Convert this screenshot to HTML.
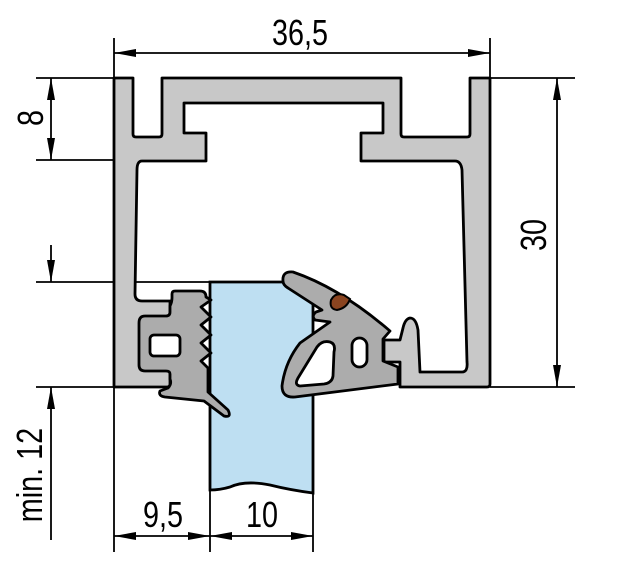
<!DOCTYPE html>
<html><head><meta charset="utf-8"><style>
html,body{margin:0;padding:0;background:#fff;}
svg{display:block;}
text{font-family:"Liberation Sans",sans-serif;fill:#000;}
</style></head><body>
<svg width="629" height="566" viewBox="0 0 629 566" xmlns="http://www.w3.org/2000/svg">
<defs>
<marker id="a" viewBox="0 0 22 10" refX="22" refY="5" markerWidth="22" markerHeight="10" markerUnits="userSpaceOnUse" orient="auto-start-reverse">
<path d="M0,1 L22,5 L0,9 Z" fill="#000"/>
</marker>
</defs>
<g stroke="#000" stroke-width="1.8" fill="none">
<line x1="114" y1="38" x2="114" y2="552"/>
<line x1="490" y1="38" x2="490" y2="80"/>
<line x1="36" y1="78" x2="114" y2="78"/>
<line x1="36" y1="160" x2="114" y2="160"/>
<line x1="490" y1="78" x2="575" y2="78"/>
<line x1="490" y1="387" x2="575" y2="387"/>
<line x1="36" y1="282" x2="210" y2="282"/>
<line x1="36" y1="387" x2="114" y2="387"/>
<line x1="210" y1="480" x2="210" y2="552"/>
<line x1="313" y1="480" x2="313" y2="552"/>
<line x1="114" y1="53" x2="490" y2="53" marker-start="url(#a)" marker-end="url(#a)"/>
<line x1="51" y1="78" x2="51" y2="160" marker-start="url(#a)" marker-end="url(#a)"/>
<line x1="557" y1="78" x2="557" y2="387" marker-start="url(#a)" marker-end="url(#a)"/>
<line x1="51" y1="245" x2="51" y2="282" marker-end="url(#a)"/>
<line x1="51" y1="540" x2="51" y2="387" marker-end="url(#a)"/>
<line x1="114" y1="536" x2="210" y2="536" marker-start="url(#a)" marker-end="url(#a)"/>
<line x1="210" y1="536" x2="313" y2="536" marker-start="url(#a)" marker-end="url(#a)"/>
</g>
<path d="M210,282 H313 V493 Q290,490 270,485 Q245,480 230,487 Q220,490 210,490 Z" fill="#bedff2" stroke="#000" stroke-width="2.8"/>
<path d="M114,78 H133 V134 Q133,137 136,137 H159 Q162,137 162,134 V78 H401 V134 Q401,137 404,137 H467 Q470,137 470,134 V78 H490 V384 Q490,387 487,387 H400 V362 H384 V340 H400 L403,328 Q405,319 410,318 Q416,318 418,330 L420,372 H462 Q468,372 467,362 L462,170 Q461,161 455,161 H361 V133 H383 V103 H184 V133 H206 V161 H142 Q137,161 137,170 L135,294 Q135,301 142,301 H170 V384 Q170,387 167,387 H114 Z" fill="#c8c8c8" stroke="#000" stroke-width="2.8" stroke-linejoin="round"/>
<path d="M172,294 Q172,291 175,291 H200 Q206,291 206,297 L211,300 L201,307 L211,317 L201,325 L211,335 L201,343 L211,353 L201,361 L208,368 V392 L228,410 Q232,418 224,416 L204,401 L165,397 Q158,396 160,391 L168,388 Q172,384 170,379 V374 Q170,371 166,371 H145 Q139,371 139,365 V323 Q139,316 145,316 H166 Q170,316 170,312 V306 Q172,302 172,298 Z" fill="#acacac" stroke="#000" stroke-width="2.8" stroke-linejoin="round"/>
<rect x="150" y="335" width="30" height="21" rx="4" fill="#fff" stroke="#000" stroke-width="2.8"/>
<path d="M283,281 Q282,271 293,272 Q340,288 390,331 L383,339 V361 L398,367 V384 L295,397 Q282,398 282,386 Q285,362 300,343 L330,322 L315,320 Q311,316 316,312 L322,310 L288,288 Q283,285 283,281 Z" fill="#acacac" stroke="#000" stroke-width="2.8" stroke-linejoin="round"/>
<path d="M317,347 Q322,340 330,342 Q336,344 334,352 L333,376 Q332,383 324,384 L300,386 Q294,385 298,378 Z" fill="#fff" stroke="#000" stroke-width="2.8" stroke-linejoin="round"/>
<rect x="352" y="338" width="15" height="29" rx="7.5" fill="#fff" stroke="#000" stroke-width="2.8"/>
<path d="M331,300 Q335,292 344,295 L350,299 Q347,308 337,310 Q329,309 331,300 Z" fill="#8a4420" stroke="#000" stroke-width="2"/>
<text x="300" y="45" font-size="36" text-anchor="middle" transform="translate(300 0) scale(0.8 1) translate(-300 0)">36,5</text>
<text x="163" y="527" font-size="36" text-anchor="middle" transform="translate(163 0) scale(0.8 1) translate(-163 0)">9,5</text>
<text x="262" y="527" font-size="36" text-anchor="middle" transform="translate(262 0) scale(0.8 1) translate(-262 0)">10</text>
<text font-size="36" text-anchor="middle" transform="translate(43 118) rotate(-90) scale(0.8 1)">8</text>
<text font-size="36" text-anchor="middle" transform="translate(546 235) rotate(-90) scale(0.8 1)">30</text>
<text font-size="36" text-anchor="middle" transform="translate(42 475) rotate(-90) scale(0.8 1)">min. 12</text>
</svg>
</body></html>
